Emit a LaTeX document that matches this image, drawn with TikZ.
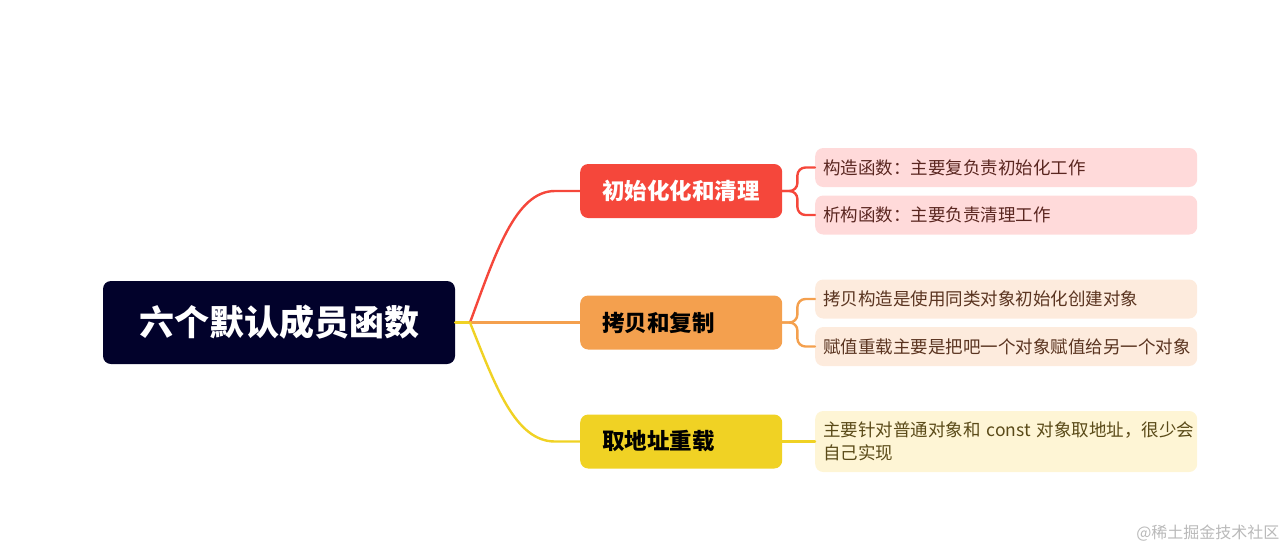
\documentclass[tikz,border=0pt]{standalone}
\usepackage{fontspec}
\setmainfont{Noto Sans CJK SC}
\usetikzlibrary{positioning,calc}
\definecolor{mroot}{HTML}{02022B}
\definecolor{mred}{HTML}{F5473B}
\definecolor{morange}{HTML}{F4A04E}
\definecolor{myellow}{HTML}{F0D224}
\definecolor{mlightred}{HTML}{FFDADA}
\definecolor{mlightorange}{HTML}{FDEBDD}
\definecolor{mlightyellow}{HTML}{FEF5D5}
\definecolor{mtxtred}{HTML}{5A2620}
\definecolor{mtxtorange}{HTML}{5A3420}
\definecolor{mtxtyellow}{HTML}{5A4A18}
\tikzset{
 branch/.style={anchor=west, rounded corners=8pt, minimum height=54pt, inner xsep=22pt, text width=158pt, align=left, font=\fontsize{22.5}{26}\selectfont\bfseries},
 leaf/.style={anchor=west, rounded corners=8pt, minimum height=39pt, inner xsep=8pt, text width=366pt, align=left, font=\fontsize{17.5}{23}\selectfont},
 link/.style={line width=2.4pt, line cap=round}
}
\begin{document}
\begin{tikzpicture}[x=1pt, y=-1pt]
 \useasboundingbox (0,0) rectangle (1288,550);
 \node[fill=mroot, text=white, rounded corners=8pt, minimum width=352pt, minimum height=83pt, font=\fontsize{35}{40}\selectfont\bfseries] (root) at (279,322.5) {六个默认成员函数};
 \coordinate (hub) at (470,322.5);
 \node[branch, fill=mred, text=white] (init) at (580,191) {初始化化和清理};
 \node[branch, fill=morange, text=black] (copy) at (580,322.5) {拷贝和复制};
 \node[branch, fill=myellow, text=black] (addr) at (580,441.5) {取地址重载};
 \node[leaf, fill=mlightred, text=mtxtred] (ctor) at (815,167.5) {构造函数：主要复负责初始化工作};
 \node[leaf, fill=mlightred, text=mtxtred] (dtor) at (815,215) {析构函数：主要负责清理工作};
 \node[leaf, fill=mlightorange, text=mtxtorange] (cctor) at (815,299) {拷贝构造是使用同类对象初始化创建对象};
 \node[leaf, fill=mlightorange, text=mtxtorange] (assign) at (815,346.5) {赋值重载主要是把吧一个对象赋值给另一个对象};
 \node[leaf, fill=mlightyellow, text=mtxtyellow, minimum height=61pt] (obj) at (815,441.5) {\mbox{主要针对普通对象和 const 对象取地址，很少会}\\自己实现};
 \draw[link, myellow] (root.east) -- (hub);
 \draw[link, mred] (hub) .. controls (495,255) and (515,191) .. (555,191) -- (init.west);
 \draw[link, morange] (hub) -- (copy.west);
 \draw[link, myellow] (hub) .. controls (495,385) and (515,441.5) .. (555,441.5) -- (addr.west);
 \draw[link, mred, rounded corners=8pt] (init.east) -- ++(15,0) |- (ctor.west);
 \draw[link, mred, rounded corners=8pt] (init.east) -- ++(15,0) |- (dtor.west);
 \draw[link, morange, rounded corners=8pt] (copy.east) -- ++(15,0) |- (cctor.west);
 \draw[link, morange, rounded corners=8pt] (copy.east) -- ++(15,0) |- (assign.west);
 \draw[link, myellow] (addr.east) -- (obj.west);
 \node[anchor=east, text=gray!55, font=\fontsize{16}{18}\selectfont] (wm) at (1283,533) {@稀土掘金技术社区};
\end{tikzpicture}
\end{document}
